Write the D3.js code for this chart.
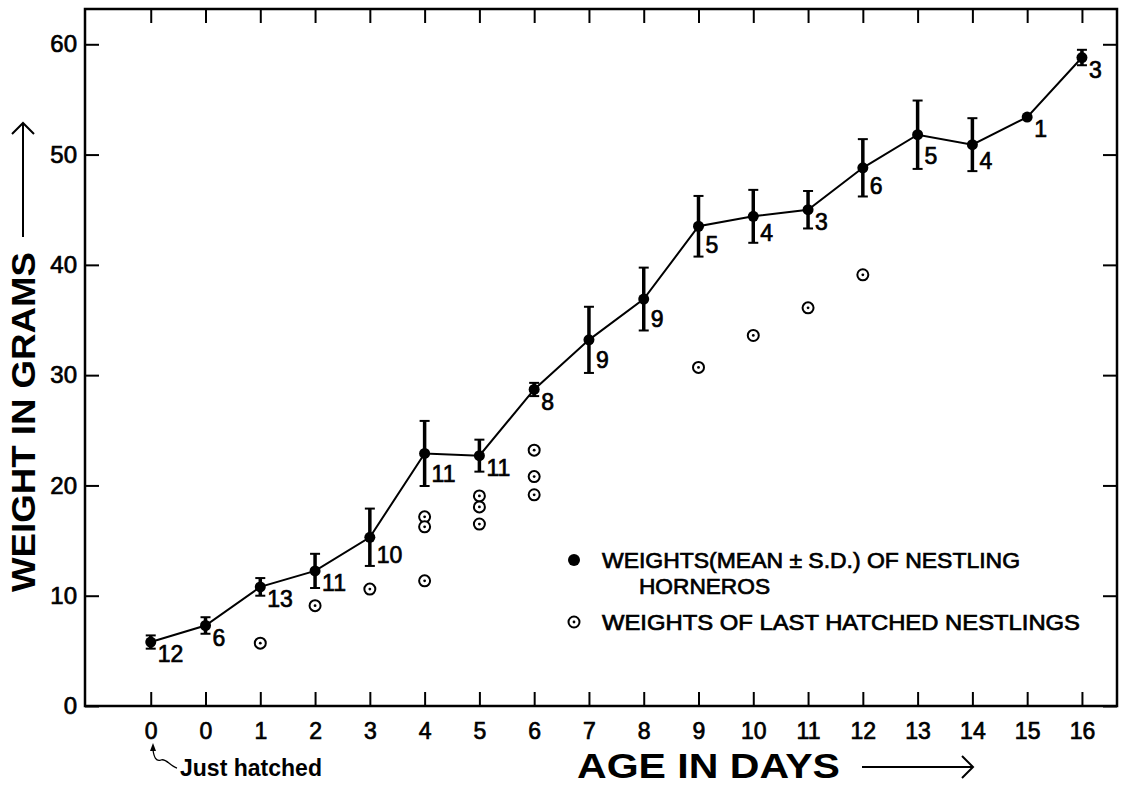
<!DOCTYPE html>
<html>
<head>
<meta charset="utf-8">
<script src="https://cdn.jsdelivr.net/npm/d3@7"></script>
<style>
  body { margin: 0; background: #fff; }
  svg { display: block; }
</style>
</head>
<body>
<svg id="chart" width="1125" height="785"></svg>
<script>
// x categories: age in days (first "0" is just hatched)
const dayLabels = ['0', '0', '1', '2', '3', '4', '5', '6', '7', '8', '9', '10', '11', '12', '13', '14', '15', '16'];

// mean weight (g), standard deviation and sample size of nestling horneros
const meanWeight = [5.8, 7.3, 10.8, 12.25, 15.3, 22.9, 22.7, 28.7, 33.2, 36.9, 43.5, 44.4, 45.0, 48.8, 51.8, 50.9, 53.4, 58.8];
const sdWeight = [0.6, 0.75, 0.8, 1.55, 2.6, 2.95, 1.45, 0.6, 3.0, 2.85, 2.75, 2.4, 1.7, 2.6, 3.1, 2.4, 0, 0.7];
const sampleSize = [12, 6, 13, 11, 10, 11, 11, 8, 9, 9, 5, 4, 3, 6, 5, 4, 1, 3];

// last hatched nestlings: position on the age axis and weight
const lastHatchedIndex = [2, 3, 4, 5, 5, 5, 6, 6, 6, 7, 7, 7, 10, 11, 12, 13];
const lastHatchedWeight = [5.7, 9.1, 10.6, 17.15, 16.25, 11.35, 19.05, 18.05, 16.5, 23.2, 20.8, 19.15, 30.7, 33.6, 36.1, 39.1];

const yTicks = [0, 10, 20, 30, 40, 50, 60];

const svg = d3.select('#chart');
const font = '"Liberation Sans", Arial, sans-serif';

const box = {left: 85, right: 1117, top: 9, bottom: 706};

const x = d3.scaleLinear().domain([-1.2, 17.64]).range([box.left, box.right]);
const y = d3.scaleLinear().domain([0, 63.2]).range([box.bottom, box.top]);

const idx = d3.range(dayLabels.length);

// lettering in the original is heavier than a regular weight
const heavy = sel => sel.attr('fill', '#000').attr('stroke', '#000').attr('stroke-width', 0.7);

// frame
svg.append('rect')
    .attr('x', box.left).attr('y', box.top)
    .attr('width', box.right - box.left).attr('height', box.bottom - box.top)
    .attr('fill', 'none').attr('stroke', '#000').attr('stroke-width', 2.5);

// axes with inward ticks
const xAxis = svg.append('g')
    .attr('transform', `translate(0,${box.bottom})`)
    .call(d3.axisBottom(x).tickValues(idx).tickFormat(i => dayLabels[i])
        .tickSizeInner(-14).tickSizeOuter(0).tickPadding(17));
xAxis.selectAll('text').style('font-family', font).style('font-size', '23px').call(heavy);

svg.append('g')
    .attr('transform', `translate(0,${box.top})`)
    .call(d3.axisTop(x).tickValues(idx).tickFormat('').tickSizeInner(-14).tickSizeOuter(0));

const yAxis = svg.append('g')
    .attr('transform', `translate(${box.left},0)`)
    .call(d3.axisLeft(y).tickValues(yTicks).tickSizeInner(-14).tickSizeOuter(0).tickPadding(8));
yAxis.selectAll('text').style('font-family', font).style('font-size', '24px').call(heavy);

svg.append('g')
    .attr('transform', `translate(${box.right},0)`)
    .call(d3.axisRight(y).tickValues(yTicks).tickFormat('').tickSizeInner(-14).tickSizeOuter(0));

svg.selectAll('.domain').remove();
svg.selectAll('.tick line').attr('stroke', '#000').attr('stroke-width', 2);

// mean line
const line = d3.line().x(i => x(i)).y(i => y(meanWeight[i]));
svg.append('path')
    .datum(idx)
    .attr('d', line)
    .attr('fill', 'none')
    .attr('stroke', '#000')
    .attr('stroke-width', 2);

// error bars
const bars = svg.append('g').selectAll('g')
    .data(idx.filter(i => sdWeight[i] > 0))
    .enter().append('g');

bars.append('line')
    .attr('x1', i => x(i)).attr('x2', i => x(i))
    .attr('y1', i => y(meanWeight[i] + sdWeight[i]))
    .attr('y2', i => y(meanWeight[i] - sdWeight[i]))
    .attr('stroke', '#000').attr('stroke-width', 3.5);

bars.selectAll('.cap')
    .data(i => [meanWeight[i] + sdWeight[i], meanWeight[i] - sdWeight[i]].map(v => ({i, v})))
    .enter().append('line')
    .attr('class', 'cap')
    .attr('x1', d => x(d.i) - 5).attr('x2', d => x(d.i) + 5)
    .attr('y1', d => y(d.v)).attr('y2', d => y(d.v))
    .attr('stroke', '#000').attr('stroke-width', 2);

// mean dots
svg.append('g').selectAll('circle')
    .data(idx)
    .enter().append('circle')
    .attr('cx', i => x(i))
    .attr('cy', i => y(meanWeight[i]))
    .attr('r', 5.5)
    .attr('fill', '#000');

// sample size labels
svg.append('g').selectAll('text')
    .data(idx)
    .enter().append('text')
    .attr('x', i => x(i) + 7)
    .attr('y', i => Math.max(y(meanWeight[i] - sdWeight[i] * 0.55) + 2, y(meanWeight[i]) + 12))
    .attr('dy', '0.36em')
    .style('font-family', font)
    .style('font-size', '23px')
    .call(heavy)
    .text(i => sampleSize[i]);

// last hatched nestlings
const open = svg.append('g').selectAll('g')
    .data(lastHatchedIndex.map((i, k) => ({i, w: lastHatchedWeight[k]})))
    .enter().append('g')
    .attr('transform', d => `translate(${x(d.i)},${y(d.w)})`);
open.append('circle').attr('r', 5.5).attr('fill', '#fff').attr('stroke', '#000').attr('stroke-width', 2);
open.append('circle').attr('r', 1.4).attr('fill', '#000');

// legend
const legend = svg.append('g').style('font-family', font).style('font-size', '22px');
legend.append('circle').attr('cx', 574).attr('cy', 560).attr('r', 6).attr('fill', '#000');
legend.append('text').attr('x', 602).attr('y', 560).attr('dy', '0.36em')
    .attr('textLength', 418).attr('lengthAdjust', 'spacingAndGlyphs')
    .call(heavy)
    .text('WEIGHTS(MEAN ± S.D.) OF NESTLING');
legend.append('text').attr('x', 639).attr('y', 586).attr('dy', '0.36em')
    .attr('textLength', 131).attr('lengthAdjust', 'spacingAndGlyphs')
    .call(heavy)
    .text('HORNEROS');
const lg2 = legend.append('g').attr('transform', 'translate(574,622)');
lg2.append('circle').attr('r', 5.5).attr('fill', '#fff').attr('stroke', '#000').attr('stroke-width', 2);
lg2.append('circle').attr('r', 1.4).attr('fill', '#000');
legend.append('text').attr('x', 602).attr('y', 622).attr('dy', '0.36em')
    .attr('textLength', 478).attr('lengthAdjust', 'spacingAndGlyphs')
    .call(heavy)
    .text('WEIGHTS OF LAST HATCHED NESTLINGS');

// y axis title with arrow
svg.append('text')
    .attr('transform', 'translate(23,422) rotate(-90)')
    .attr('text-anchor', 'middle')
    .attr('dy', '0.36em')
    .attr('textLength', 340).attr('lengthAdjust', 'spacingAndGlyphs')
    .style('font-family', font).style('font-size', '34px').style('font-weight', 'bold')
    .text('WEIGHT  IN  GRAMS');
svg.append('path')
    .attr('d', 'M23,237 L23,123 M12,134 L23,123 L34,134')
    .attr('fill', 'none').attr('stroke', '#000').attr('stroke-width', 2);

// x axis title with arrow
svg.append('text')
    .attr('x', 577).attr('y', 778)
    .attr('textLength', 263).attr('lengthAdjust', 'spacingAndGlyphs')
    .style('font-family', font).style('font-size', '35px').style('font-weight', 'bold')
    .text('AGE  IN  DAYS');
svg.append('path')
    .attr('d', 'M862,767 L973,767 M962,756 L973,767 L962,778')
    .attr('fill', 'none').attr('stroke', '#000').attr('stroke-width', 2);

// just hatched note
svg.append('text')
    .attr('x', 180).attr('y', 776)
    .attr('textLength', 142).attr('lengthAdjust', 'spacingAndGlyphs')
    .style('font-family', font).style('font-size', '23px').style('font-weight', 'bold')
    .text('Just hatched');
svg.append('path')
    .attr('d', 'M153,750 C154,757 156,762 161,760 C166,758 170,766 177,768')
    .attr('fill', 'none').attr('stroke', '#000').attr('stroke-width', 1.3);
svg.append('path')
    .attr('d', 'M153,743 L150,751 L156,751 Z')
    .attr('fill', '#000');
</script>
</body>
</html>
